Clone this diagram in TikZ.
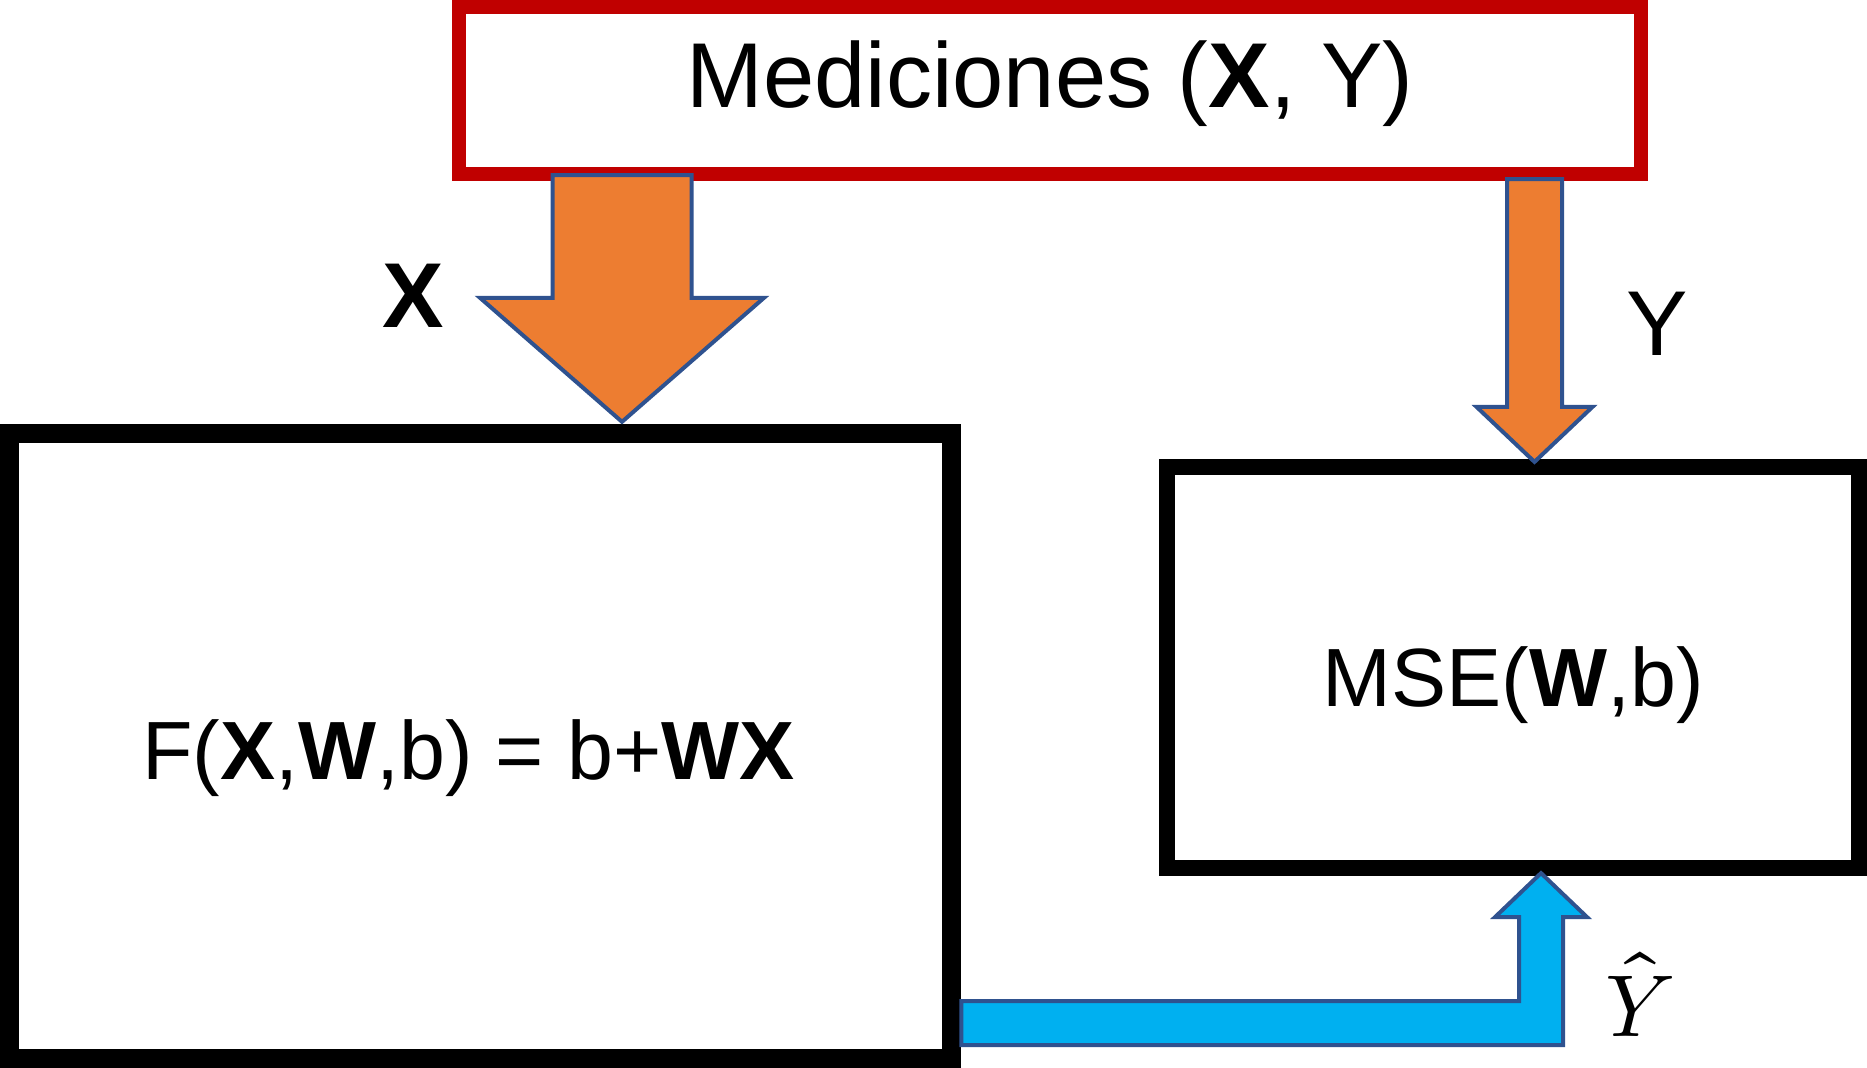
\documentclass[tikz,border=0pt]{standalone}
\usepackage{fontspec}
\usepackage{unicode-math}
\setmainfont{Liberation Sans}
\usetikzlibrary{calc}

\definecolor{rojo}{HTML}{C00000}
\definecolor{naranja}{HTML}{ED7D31}
\definecolor{azulborde}{HTML}{2F528F}
\definecolor{celeste}{HTML}{00B0F0}

\tikzset{
  caja/.style={draw, fill=white, rectangle, inner sep=0pt},
  flecha/.style={draw=azulborde, line width=0.04cm, line join=miter},
  letra grande/.style={font=\fontsize{26.2}{31}\selectfont},
  letra media/.style={font=\fontsize{23.5}{28}\selectfont}
}

% flecha de bloque hacia abajo: origen, punta, semiancho cuerpo, semiancho cabeza, largo cabeza
\newcommand{\flechabaja}[5]{%
  \draw[flecha, fill=naranja]
    ($(#1)+(-#3,0)$) -- ($(#2)+(-#3,-#5)$) -- ($(#2)+(-#4,-#5)$) -- (#2)
    -- ($(#2)+(#4,-#5)$) -- ($(#2)+(#3,-#5)$) -- ($(#1)+(#3,0)$) -- cycle;}

\begin{document}
\begin{tikzpicture}[x=0.01cm, y=-0.01cm]
  \useasboundingbox (0,0) rectangle (1867,1068);

  % Cajas
  \node[caja, draw=rojo, line width=0.14cm, minimum width=11.82cm, minimum height=1.67cm,
        letra grande, text height=0.7cm, text depth=0.35cm] (med) at (1050,90.5)
        {Mediciones (\textbf{X}, Y)};
  \node[caja, line width=0.19cm, minimum width=9.42cm, minimum height=6.25cm,
        letra media, text height=0.9cm, text depth=0.24cm] (modelo) at (480.5,746)
        {F(\textbf{X},\textbf{W},b) = b+\textbf{WX}\hspace*{0.24cm}};
  \node[caja, line width=0.16cm, minimum width=6.92cm, minimum height=4.01cm,
        letra media, text height=1.0cm, text depth=0.23cm] (mse) at (1513,667.5)
        {MSE(\textbf{W},b)};

  % Flechas de las mediciones
  \coordinate (ejeX) at (622,0);
  \coordinate (iniX) at ($(ejeX |- med.south)+(0,-6)$);
  \coordinate (finX) at ($(ejeX |- modelo.north)+(0,-2)$);
  \flechabaja{iniX}{finX}{69.5}{142}{124}

  \coordinate (ejeY) at (1534.5,0);
  \coordinate (iniY) at ($(ejeY |- med.south)+(0,-2)$);
  \coordinate (finY) at ($(ejeY |- mse.north)+(0,3)$);
  \flechabaja{iniY}{finY}{27.5}{58}{55}

  % Flecha de la salida del modelo
  \coordinate (iniYh) at ($(modelo.south east)+(0,-45)$);
  \coordinate (finYh) at ($(mse.south)+(28,-3)$);
  \coordinate (codo) at (finYh |- iniYh);
  \draw[flecha, fill=celeste]
    ($(iniYh)+(0,-22)$) -- ($(codo)+(-22,-22)$) -- ($(finYh)+(-22,44)$)
    -- ($(finYh)+(-46,44)$) -- (finYh) -- ($(finYh)+(46,44)$)
    -- ($(finYh)+(22,44)$) -- ($(codo)+(22,22)$) -- ($(iniYh)+(0,22)$) -- cycle;

  % Etiquetas
  \node[letra grande] (etqX) at (413,296) {\textbf{X}};
  \node[letra grande] (etqY) at (1657,324) {Y};
  \node[font=\fontsize{25}{30}\selectfont] (etqYh) at (1640,994) {$\hat{Y}$};
\end{tikzpicture}
\end{document}
